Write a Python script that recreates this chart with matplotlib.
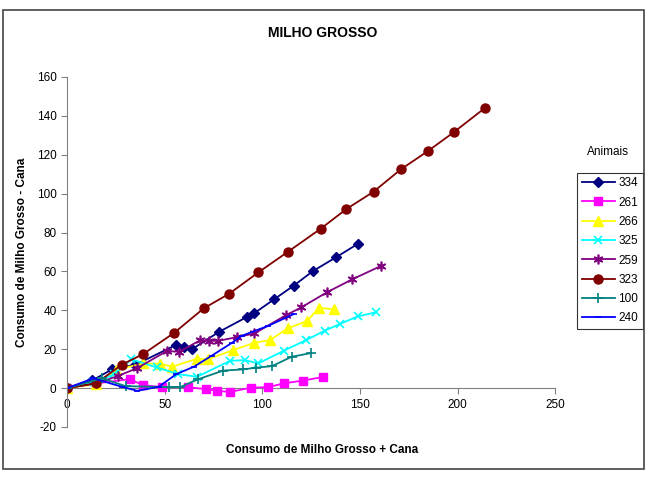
import matplotlib
matplotlib.use("Agg")
import matplotlib.pyplot as plt
from matplotlib.patches import Rectangle

plt.rcParams['font.family'] = ['Liberation Sans', 'DejaVu Sans']
plt.rcParams['axes.unicode_minus'] = False

# --- data ---
x334 = [0, 13, 23, 35, 56, 60, 64, 78, 92, 96, 106, 116, 126, 138, 149]
y334 = [0, 4, 9.6, 12, 22.3, 21, 20, 29, 36.5, 38.6, 45.6, 52.6, 60.2, 67.4, 74.2]

x261 = [0, 15, 32, 39, 48.5, 62, 71, 77, 83.5, 94, 103, 111, 121, 131]
y261 = [0, 2.4, 4.6, 1.5, 0.5, 0.4, -0.5, -1.4, -2, 0.2, 0.5, 2.4, 3.9, 5.7]

x266 = [0, 15, 25, 39, 47.5, 54, 66.5, 72, 85, 96, 104, 113, 123, 129, 136.5]
y266 = [0, 2, 9.3, 12.7, 12.5, 11, 15.1, 14.8, 19.5, 23.3, 24.7, 30.7, 34.5, 41.3, 40.5]

x325 = [0, 14, 24, 33, 46, 57, 66.5, 83.5, 91, 98, 111, 122.5, 132, 140, 149, 158]
y325 = [0, 3, 7, 14.8, 10.6, 7.2, 5.8, 14, 14.4, 12.7, 19.2, 24.7, 29.5, 33.1, 36.9, 38.9]

x259 = [0, 15, 26, 36, 51, 57.5, 68, 72.5, 77.5, 87, 96, 112, 120, 133, 146, 161]
y259 = [0, 2.4, 6.2, 10.3, 19, 18.7, 24.5, 24.3, 24.3, 26.2, 28.1, 37.4, 41.5, 49.2, 55.9, 62.9]

x323 = [0, 15, 28, 39, 55, 70, 83, 98, 113, 130, 143, 157, 171, 185, 198, 214]
y323 = [0, 2.5, 12, 17.5, 28.5, 41, 48.5, 59.5, 70, 82, 92, 101, 112.5, 122, 131.5, 144]

x100 = [0, 18, 30, 52, 58, 67, 80, 90, 97, 105, 115, 125]
y100 = [0, 5, 1, 0.5, 0.5, 4.5, 9, 9.6, 10.5, 11.3, 16.1, 18]

x240 = [0, 13.5, 28, 36, 47, 56, 65, 74, 84.5, 89.5, 103, 116]
y240 = [0, 5, 0.7, -1.4, 0.7, 7.2, 11, 16.6, 23.3, 26.9, 32, 38]

series = [
    ("334", x334, y334, "#000080", "D", 5),
    ("261", x261, y261, "#FF00FF", "s", 6),
    ("266", x266, y266, "#FFFF00", "^", 6.5),
    ("325", x325, y325, "#00FFFF", "x", 6),
    ("259", x259, y259, "#800080", (6, 2, 0), 7),
    ("323", x323, y323, "#800000", "o", 6.5),
    ("100", x100, y100, "#008080", "+", 7),
    ("240", x240, y240, "#0000FF", "_", 5),
]

xticks = [0, 50, 100, 150, 200, 250]
yticks = [-20, 0, 20, 40, 60, 80, 100, 120, 140, 160]

fig = plt.figure(figsize=(6.47, 4.84), dpi=100)
fig.patches.append(Rectangle((0.004, 0.03), 0.992, 0.95, transform=fig.transFigure,
                             fill=False, edgecolor='#444444', linewidth=1.2))

ax = fig.add_axes([0.1036, 0.1178, 0.7544, 0.7232])
for name, xs, ys, c, m, ms in series:
    mew = 1.2 if m in ("x", "+", "_") or isinstance(m, tuple) else 1.0
    ax.plot(xs, ys, color=c, marker=m, markersize=ms, linewidth=1.3,
            markeredgecolor=c, markerfacecolor=c, markeredgewidth=mew, label=name)

ax.set_xlim(0, 250)
ax.set_ylim(-20, 160)
ax.set_xticks(xticks)
ax.set_yticks(yticks)
for s in ['top', 'right']:
    ax.spines[s].set_visible(False)
ax.spines['bottom'].set_position(('data', 0))
ax.spines['bottom'].set_color('#808080')
ax.spines['bottom'].set_zorder(0.5)
ax.spines['left'].set_color('#808080')
ax.tick_params(axis='y', direction='out', length=4, color='#808080', labelsize=8.5)
ax.tick_params(axis='x', direction='out', length=4, color='#808080', labelsize=8.5, pad=4)

fig.text(0.498, 0.070, "Consumo de Milho Grosso + Cana", ha='center', va='center',
         fontsize=8.5, fontweight='bold')
ax.set_ylabel("Consumo de Milho Grosso - Cana", fontsize=8.5, fontweight='bold', labelpad=6)
fig.text(0.498, 0.932, "MILHO GROSSO", ha='center', va='center', fontsize=10, fontweight='bold')

leg = ax.legend(loc='upper left', bbox_to_anchor=(1.045, 0.727), frameon=True, fancybox=False,
                edgecolor='black', fontsize=8.5, handlelength=2.8, borderpad=0.4,
                labelspacing=0.62, handletextpad=0.3, borderaxespad=0)
leg.get_frame().set_linewidth(0.8)
fig.text(0.94, 0.686, "Animais", ha='center', va='center', fontsize=8.5)

fig.savefig("out.png", dpi=100)
